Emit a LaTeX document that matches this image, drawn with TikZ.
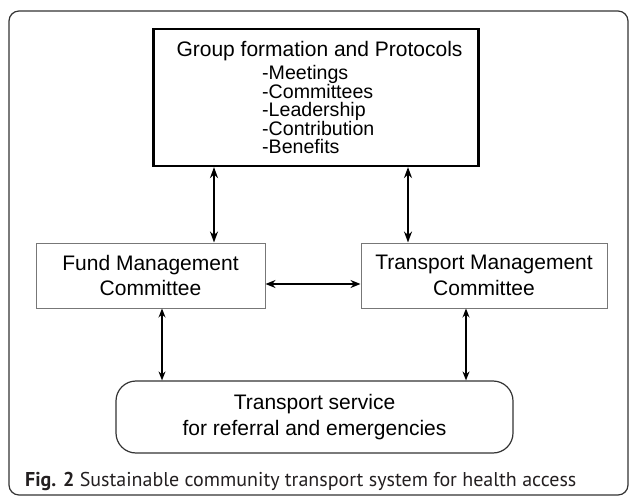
\documentclass[tikz,border=0pt]{standalone}
\usepackage{fontspec}
\setmainfont{Liberation Sans}
\newfontfamily\capfont{PT Sans}
\usetikzlibrary{arrows.meta}
\definecolor{framegray}{HTML}{333333}
\definecolor{boxgray}{HTML}{777777}
\definecolor{captext}{HTML}{231F20}
\tikzset{
  bigbox/.style={draw=black, line width=2.2pt, minimum width=325pt, minimum height=137pt, inner sep=0pt},
  combox/.style={draw=boxgray, line width=1pt, minimum width=#1, minimum height=65pt, inner sep=0pt, align=center,
    font=\fontsize{21}{25.5}\selectfont},
  servbox/.style={draw=framegray, line width=1.2pt, rounded corners=20pt, minimum width=397pt, minimum height=72pt,
    inner sep=0pt, align=center, font=\fontsize{21}{26}\selectfont},
  thickarr/.style={line width=2pt, {Stealth[length=11pt,width=8pt]}-{Stealth[length=11pt,width=8pt]}},
  midarr/.style={line width=1.6pt, {Stealth[length=10pt,width=8pt]}-{Stealth[length=10pt,width=8pt]}},
  thinarr/.style={line width=1.2pt, {Stealth[length=9pt,width=7pt]}-{Stealth[length=9pt,width=7pt]}},
}
\begin{document}
\begin{tikzpicture}[x=1pt,y=-1pt]
\useasboundingbox (0,0) rectangle (629,497);
\draw[framegray, line width=1.2pt, rounded corners=10pt] (9,11) rectangle (628,495);
\node[bigbox] (top) at (316,97.5) {};
\node[anchor=base, inner sep=0pt, font=\fontsize{21}{24}\selectfont] (title) at (319.5,56.5) {Group formation and Protocols};
\node[anchor=base west, inner sep=0pt, align=left, font=\fontsize{19.6}{18}\selectfont] (list) at (262,154)
  {-Meetings\\-Committees\\-Leadership\\-Contribution\\-Benefits};
\node[combox=229pt] (fund) at (150.5,275.5) {Fund Management\\Committee};
\node[combox=246pt] (trans) at (484,275.5) {Transport Management\\Committee};
\node[servbox] (serv) at (314.5,417) {Transport service\\for referral and emergencies};
\coordinate (c1) at (214,0);
\coordinate (c2) at (408,0);
\coordinate (c3) at (0,284);
\coordinate (c4) at (162,0);
\coordinate (c5) at (466,0);
\draw[thickarr] (top.south -| c1) -- (fund.north -| c1);
\draw[thickarr] (top.south -| c2) -- (trans.north -| c2);
\draw[midarr] (fund.east |- c3) -- (trans.west |- c3);
\draw[thinarr] (fund.south -| c4) -- (serv.north -| c4);
\draw[thinarr] (trans.south -| c5) -- (serv.north -| c5);
\node[anchor=base west, inner sep=0pt, text=captext, font=\capfont\fontsize{20}{22}\selectfont] (cap) at (25,486)
  {\textbf{Fig. 2} Sustainable community transport system for health access};
\end{tikzpicture}
\end{document}
